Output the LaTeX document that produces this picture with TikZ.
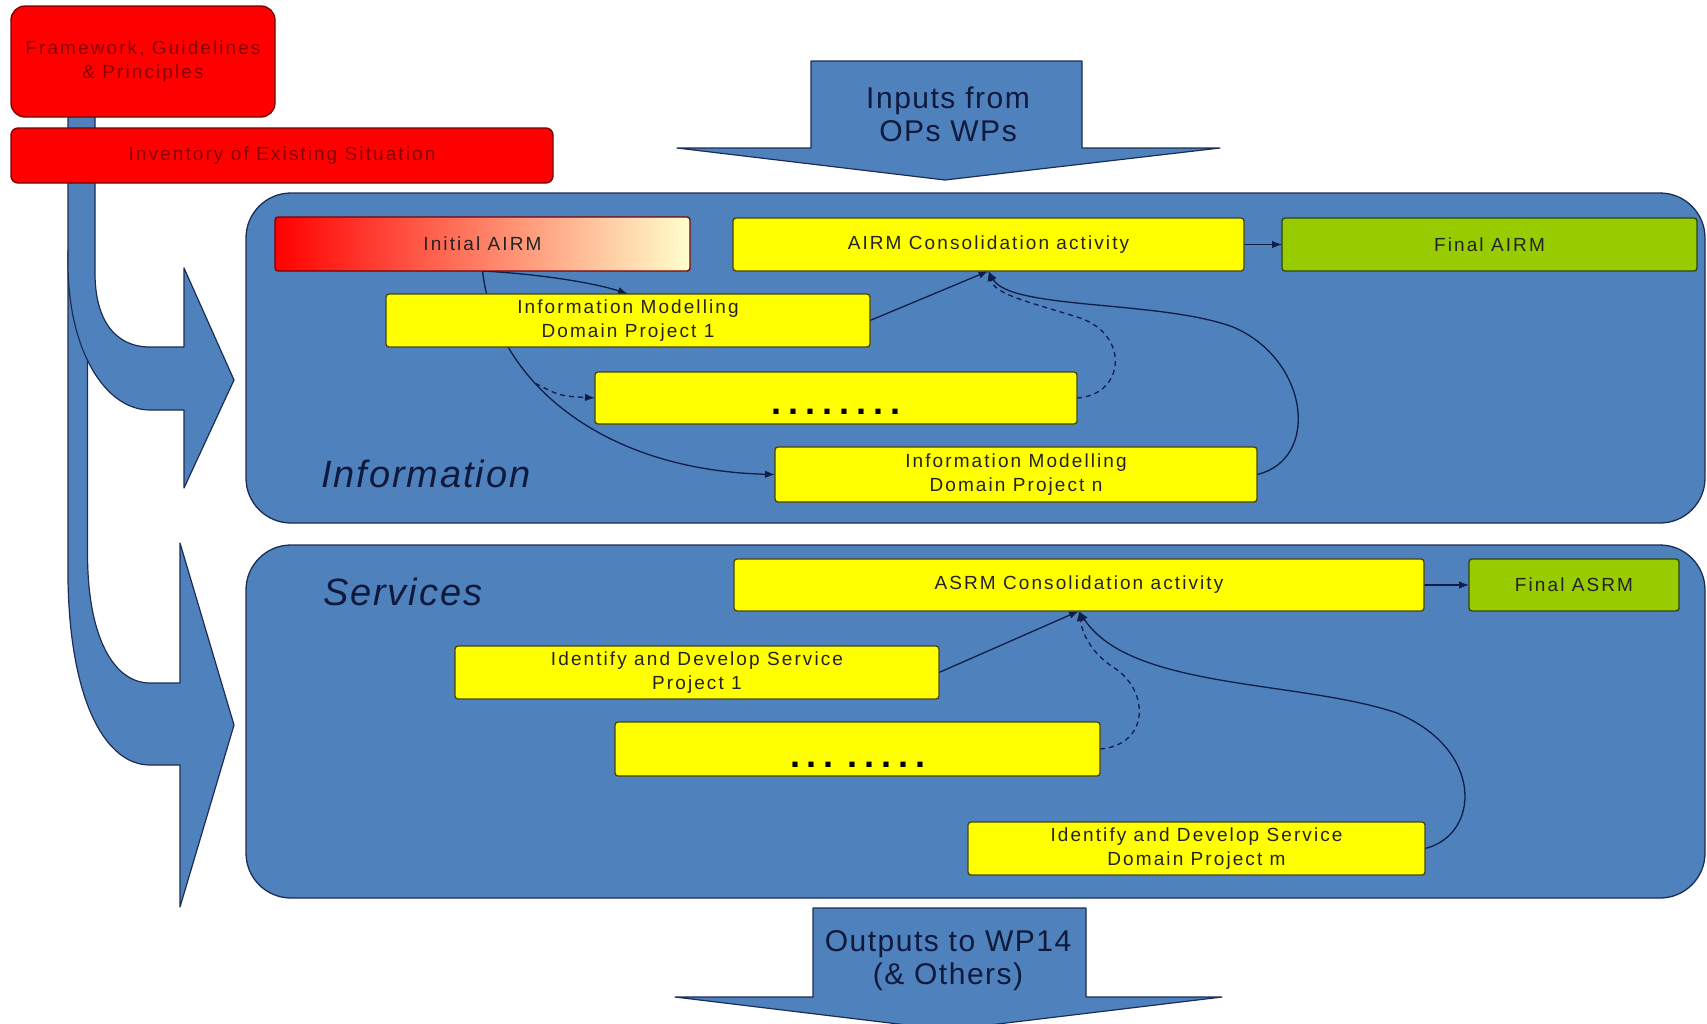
\documentclass[tikz,border=0pt]{standalone}
\usepackage{fontspec}
\setmainfont{Liberation Sans}
\newfontfamily\boxfnt{Liberation Sans}[LetterSpace=11]
\newfontfamily\bigfnt{Liberation Sans}[LetterSpace=5]
\newfontfamily\panfnt{Liberation Sans}[LetterSpace=5]
\usetikzlibrary{arrows.meta}
\definecolor{pblue}{RGB}{79,129,189}
\definecolor{pline}{RGB}{28,45,85}
\definecolor{byel}{RGB}{255,255,0}
\definecolor{yline}{RGB}{70,70,10}
\definecolor{bgreen}{RGB}{153,204,0}
\definecolor{gline}{RGB}{45,70,10}
\definecolor{bred}{RGB}{255,0,0}
\definecolor{rline}{RGB}{120,0,0}
\definecolor{rtext}{RGB}{135,0,0}
\definecolor{dtext}{RGB}{35,35,35}
\definecolor{ntext}{RGB}{15,25,60}
\definecolor{cline}{RGB}{15,30,70}
\definecolor{peach}{RGB}{255,150,90}
\definecolor{lyel}{RGB}{255,255,204}
\pgfdeclarelayer{bg}
\pgfdeclarelayer{links}
\pgfsetlayers{bg,links,main}
\tikzset{
  box/.style={line width=1.3pt, inner sep=0pt, outer sep=0pt, align=center,
    rounded corners=3pt, font=\boxfnt\fontsize{19}{24}\selectfont, text=dtext},
  ybox/.style={box, draw=yline, fill=byel},
  gbox/.style={box, draw=gline, fill=bgreen},
  rbox/.style={box, draw=rline, fill=bred, text=rtext},
  panel/.style={draw=pline, fill=pblue, line width=1.3pt, rounded corners=45pt,
    inner sep=0pt, outer sep=0pt},
  blueshape/.style={draw=pline, fill=pblue, line width=1.2pt, line join=round},
  conn/.style={draw=cline, line width=1.3pt, -{Latex[length=10pt,width=7.5pt]}},
  dconn/.style={conn, dash pattern=on 5pt off 4pt},
  dotstext/.style={font=\bfseries\fontsize{36}{36}\selectfont, text=black,
    inner sep=0pt, anchor=base},
  bigtext/.style={font=\bigfnt\fontsize{30}{33}\selectfont, text=ntext,
    align=center, inner sep=0pt},
  pantext/.style={font=\panfnt\itshape\fontsize{38}{40}\selectfont, text=ntext,
    inner sep=0pt, anchor=base west}
}
\begin{document}
\begin{tikzpicture}[x=1pt,y=-1pt]
\useasboundingbox (0,0) rectangle (1707,1023);
\begin{pgfonlayer}{bg}
\fill[white] (0,0) rectangle (1707,1023);
% lower curved arrow (continuation of bar)
\draw[blueshape] (68,250) -- (68,580) .. controls (70,700) and (105,765) .. (150,765)
  -- (180,765) -- (180,907) -- (234,725) -- (180,543) -- (180,683) -- (150,683)
  .. controls (115,683) and (87.5,640) .. (87.5,553) -- (87.5,250);
% upper curved arrow with bar
\draw[blueshape] (68,110) -- (68,263) .. controls (68,350) and (105,410) .. (150,410)
  -- (184,410) -- (184,488) -- (234,380) -- (184,268) -- (184,347) -- (150,347)
  .. controls (115,347) and (95,320) .. (95,273) -- (95,110) -- cycle;
% panels
\node[panel, minimum width=1459pt, minimum height=330pt] (info) at (975.5,358) {};
\node[panel, minimum width=1459pt, minimum height=353pt] (serv) at (975.5,721.5) {};
% input / output arrows
\draw[blueshape] (811,61) -- (1082,61) -- (1082,148) -- (1220,148) -- (945,180)
  -- (677,148) -- (811,148) -- cycle;
\draw[blueshape] (813,908) -- (1086,908) -- (1086,997) -- (1222,997) -- (948,1030)
  -- (675,997) -- (813,997) -- cycle;
\end{pgfonlayer}

% red boxes
\node[rbox, rounded corners=14pt, minimum width=264pt, minimum height=111pt] (fw) at (143,61.5)
  {Framework, Guidelines\\\& Principles};
\node[rbox, rounded corners=7pt, minimum width=542pt, minimum height=55pt] (inv) at (282,155.5)
  {Inventory of Existing Situation};

% arrow texts
\node[bigtext] (inputs) at (948,114) {Inputs from\\OPs WPs};
\node[bigtext] (outputs) at (948,960.5) {Outputs to WP14\\(\& Others)};

% panel labels
\node[pantext] (infolbl) at (321,487) {Information};
\node[pantext] (servlbl) at (323,605) {Services};

% information boxes
\node[box, draw=rline, left color=bred, middle color=peach, right color=lyel,
  minimum width=415pt, minimum height=54pt] (initial) at (482.5,244) {Initial AIRM};
\node[ybox, minimum width=511pt, minimum height=53pt] (consol1) at (988.5,244.5)
  {AIRM Consolidation activity};
\node[gbox, minimum width=415pt, minimum height=53pt] (final1) at (1489.5,244.5) {Final AIRM};
\node[ybox, minimum width=484pt, minimum height=53pt] (imp1) at (628,320.5)
  {Information Modelling\\Domain Project 1};
\node[ybox, minimum width=482pt, minimum height=52pt] (idots) at (836,398) {};
\node[dotstext] (idotst) at (836,414) {.\hspace{7pt}.\hspace{7pt}.\hspace{7pt}.\hspace{7pt}.\hspace{7pt}.\hspace{7pt}.\hspace{7pt}.};
\node[ybox, minimum width=482pt, minimum height=55pt] (impn) at (1016,474.5)
  {Information Modelling\\Domain Project n};

% services boxes
\node[ybox, minimum width=690pt, minimum height=52pt] (consol2) at (1079,585)
  {ASRM Consolidation activity};
\node[gbox, minimum width=210pt, minimum height=52pt] (final2) at (1574,585) {Final ASRM};
\node[ybox, minimum width=484pt, minimum height=53pt] (sp1) at (697,672.5)
  {Identify and Develop Service\\Project 1};
\node[ybox, minimum width=485pt, minimum height=54pt] (sdots) at (857.5,749) {};
\node[dotstext] (sdotst) at (857.5,767) {.\hspace{7pt}.\hspace{7pt}.\hspace{13pt}.\hspace{7pt}.\hspace{7pt}.\hspace{7pt}.\hspace{7pt}.};
\node[ybox, minimum width=457pt, minimum height=53pt] (spm) at (1196.5,848.5)
  {Identify and Develop Service\\Domain Project m};

% connectors
\begin{pgfonlayer}{links}
\draw[conn] (initial.south) .. controls (540,274) and (595,283) .. (imp1.north);
\draw[conn] (initial.south) .. controls (495,380) and (600,470) .. (impn.west) coordinate[pos=0.38] (b1);
\draw[dconn] (b1) .. controls (560,396) .. (idots.west);
\draw[conn] (imp1.east) -- (consol1.south);
\draw[dconn] (idots.east) .. controls (1125,395) and (1130,335) .. (1080,318)
  .. controls (1030,302) and (995,295) .. (consol1.south);
\draw[conn] (impn.east) .. controls (1320,460) and (1310,360) .. (1233,327)
  .. controls (1160,300) and (1010,310) .. (consol1.south);
\draw[conn] (consol1.east) -- (final1.west);
\draw[conn] (sp1.east) -- (consol2.south);
\draw[dconn] (sdots.east) .. controls (1150,745) and (1150,690) .. (1113,667)
  .. controls (1090,652) and (1082,632) .. (consol2.south);
\draw[conn] (spm.east) .. controls (1480,835) and (1485,750) .. (1397,713)
  .. controls (1300,680) and (1130,690) .. (consol2.south);
\draw[conn] (consol2.east) -- (final2.west);
\end{pgfonlayer}
\end{tikzpicture}
\end{document}
